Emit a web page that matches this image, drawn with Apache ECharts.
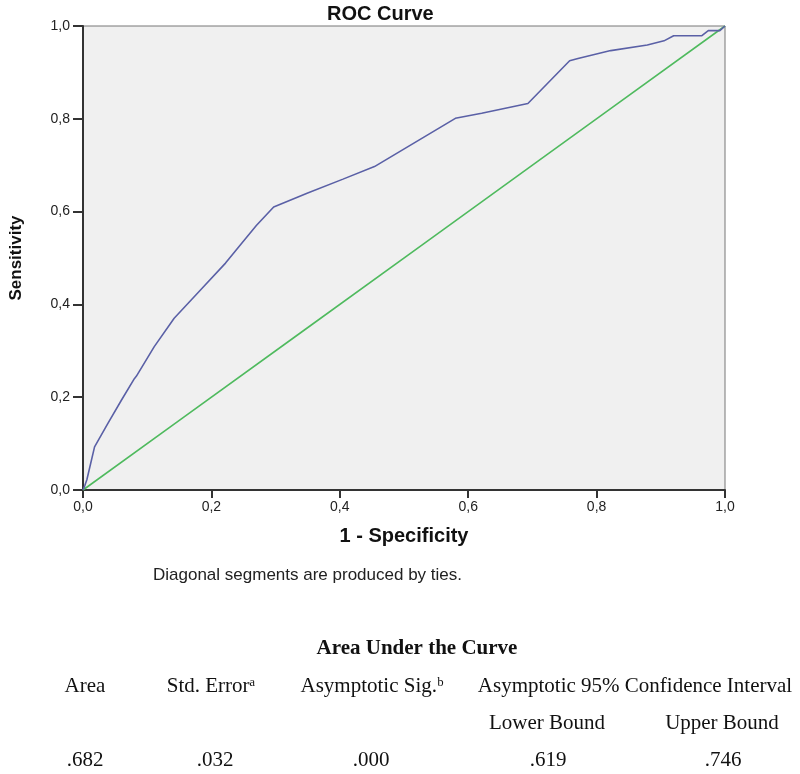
<!DOCTYPE html>
<html>
<head>
<meta charset="utf-8">
<script src="https://cdn.jsdelivr.net/npm/echarts@6/dist/echarts.min.js"></script>
<style>
html,body{margin:0;padding:0;background:#fff;}
#chart{width:800px;height:774px;}
</style>
</head>
<body>
<div id="chart"></div>
<script>
// ROC curve points (1 - Specificity, Sensitivity)
var rocX = [0, 0.003, 0.006, 0.018, 0.039, 0.06, 0.08, 0.083, 0.111, 0.142, 0.183, 0.222, 0.245, 0.27, 0.297, 0.35, 0.405, 0.454, 0.58, 0.621, 0.693, 0.758, 0.771, 0.822, 0.879, 0.905, 0.92, 0.964, 0.974, 0.992, 1.0];
var rocY = [0, 0.01, 0.022, 0.093, 0.144, 0.194, 0.24, 0.245, 0.309, 0.37, 0.431, 0.489, 0.528, 0.57, 0.61, 0.64, 0.67, 0.697, 0.801, 0.812, 0.833, 0.925, 0.93, 0.947, 0.959, 0.968, 0.979, 0.979, 0.99, 0.99, 1.0];
// Reference (diagonal) line
var refX = [0, 0.15, 0.34, 0.53, 0.72, 0.81, 1.0];
var refY = [0, 0.15, 0.34, 0.53, 0.72, 0.81, 1.0];
// Axis ticks
var tickValues = [0, 0.2, 0.4, 0.6, 0.8, 1.0];
// Table
var tableTitle = 'Area Under the Curve';
var footnote = 'Diagonal segments are produced by ties.';
var colHeaders = ['Area', 'Std. Error\u1D43', 'Asymptotic Sig.\u1D47', 'Asymptotic 95% Confidence Interval'];
var subHeaders = ['Lower Bound', 'Upper Bound'];
var aucValues = ['.682', '.032', '.000', '.619', '.746'];

function pairs(xs, ys){ return xs.map(function(x,i){ return [x, ys[i]]; }); }
function fmt(v){ return v.toFixed(1).replace('.', ','); }

var chart = echarts.init(document.getElementById('chart'), null, {renderer:'canvas'});
var serif = '"Liberation Serif", "Times New Roman", serif';
var sans = '"Liberation Sans", Arial, sans-serif';
var colCenters = [85, 211, 372, 635];
var subCenters = [547, 722];
var valCenters = [85, 215, 371, 548, 723];

var graphics = [];
graphics.push({type:'text', left:153, top:567, style:{text:footnote, font:'17px ' + sans, fill:'#222'}});
graphics.push({type:'text', x:417, y:649, style:{text:tableTitle, font:'bold 21px ' + serif, fill:'#111', textAlign:'center', textVerticalAlign:'middle'}});
colHeaders.forEach(function(t,i){
  graphics.push({type:'text', x:colCenters[i], y:686, style:{text:t, font:'21px ' + serif, fill:'#111', textAlign:'center', textVerticalAlign:'middle'}});
});
subHeaders.forEach(function(t,i){
  graphics.push({type:'text', x:subCenters[i], y:723, style:{text:t, font:'21px ' + serif, fill:'#111', textAlign:'center', textVerticalAlign:'middle'}});
});
aucValues.forEach(function(t,i){
  graphics.push({type:'text', x:valCenters[i], y:760, style:{text:t, font:'21px ' + serif, fill:'#111', textAlign:'center', textVerticalAlign:'middle'}});
});

chart.setOption({
  animation:false,
  backgroundColor:'#fff',
  title:{text:'ROC Curve', left:322, top:-1, textStyle:{fontFamily:sans, fontWeight:'bold', fontSize:20, color:'#111'}},
  grid:{left:78, top:26, width:647, height:464, show:true, backgroundColor:'#f0f0f0', borderColor:'#777', borderWidth:1},
  xAxis:{
    type:'value', min:0, max:1, interval:0.2,
    name:'1 - Specificity', nameLocation:'middle', nameGap:36,
    nameTextStyle:{fontFamily:sans, fontWeight:'bold', fontSize:20, color:'#111'},
    axisLine:{show:true, onZero:false, lineStyle:{color:'#333', width:2}},
    axisTick:{show:true, length:8, inside:false, lineStyle:{color:'#333', width:2}},
    axisLabel:{formatter:fmt, fontFamily:sans, fontSize:14, color:'#222', margin:10},
    splitLine:{show:false}
  },
  yAxis:{
    type:'value', min:0, max:1, interval:0.2,
    name:'Sensitivity', nameLocation:'middle', nameGap:58, nameRotate:90,
    nameTextStyle:{fontFamily:sans, fontWeight:'bold', fontSize:17, color:'#111'},
    axisLine:{show:true, onZero:false, lineStyle:{color:'#333', width:2}},
    axisTick:{show:true, length:10, inside:false, lineStyle:{color:'#333', width:2}},
    axisLabel:{formatter:fmt, fontFamily:sans, fontSize:14, color:'#222', margin:13},
    splitLine:{show:false}
  },
  series:[
    {type:'line', data:pairs(refX, refY), showSymbol:false, symbol:'none', lineStyle:{color:'#4fba5e', width:1.6}, z:2},
    {type:'line', data:pairs(rocX, rocY), showSymbol:false, symbol:'none', lineStyle:{color:'#5a60a6', width:1.6}, z:3}
  ],
  graphic:graphics
});
</script>
</body>
</html>
